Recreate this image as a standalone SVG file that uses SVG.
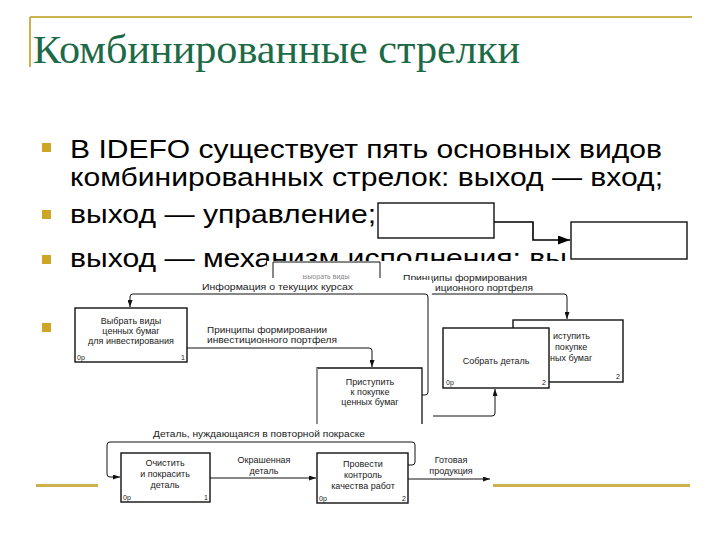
<svg xmlns="http://www.w3.org/2000/svg" width="720" height="540" viewBox="0 0 720 540">
<style>
.rule{stroke:#CBB24E;fill:none}
.bul{fill:#CFA526}
.bt{font-family:"Liberation Sans",Arial,sans-serif;font-size:25px;fill:#000}
.dt{font-family:"Liberation Sans",Arial,sans-serif;font-size:9px;fill:#1a1a1a}
.tag{font-family:"Liberation Sans",Arial,sans-serif;font-size:7px;fill:#1a1a1a}
.box{fill:#fff;stroke:#111;stroke-width:1.4}
.ln{fill:none;stroke:#111;stroke-width:1}
.bg{fill:#fff}
</style>
<defs>
<marker id="ah" viewBox="0 0 7 5" refX="7" refY="2.5" markerWidth="7" markerHeight="5" orient="auto" markerUnits="userSpaceOnUse"><path d="M0,0 L7,2.5 L0,5 z" fill="#111"/></marker>
<marker id="ahL" viewBox="0 0 12 9" refX="12" refY="4.5" markerWidth="12" markerHeight="9" orient="auto" markerUnits="userSpaceOnUse"><path d="M0,0 L12,4.5 L0,9 z" fill="#000"/></marker>
<clipPath id="fragClip"><rect x="273" y="275" width="107" height="5"/></clipPath>
</defs>
<rect width="720" height="540" fill="#fff"/>

<g id="slide-frame">
<path class="rule" stroke-width="2" d="M30,17 H692 M30,17 V67"/>
<path class="rule" stroke-width="3" d="M36,485.5 H98 M493,485.5 H690"/>
</g>

<g id="title">
<text x="33" y="63" font-family="'Liberation Serif','Times New Roman',serif" font-size="39" fill="#1D6A46" textLength="487" lengthAdjust="spacingAndGlyphs">Комбинированные стрелки</text>
</g>

<g id="bullets">
<rect class="bul" x="42" y="143" width="9" height="9"/>
<rect class="bul" x="42" y="210" width="9" height="9"/>
<rect class="bul" x="42" y="255" width="9" height="9"/>
<rect class="bul" x="42" y="323" width="9" height="9"/>
<text class="bt" x="70" y="158" textLength="592" lengthAdjust="spacingAndGlyphs">В IDEFO существует пять основных видов</text>
<text class="bt" x="70" y="186" textLength="593" lengthAdjust="spacingAndGlyphs">комбинированных стрелок: выход — вход;</text>
<text class="bt" x="70" y="223" textLength="306" lengthAdjust="spacingAndGlyphs">выход — управление;</text>
<text class="bt" x="70" y="267" textLength="497" lengthAdjust="spacingAndGlyphs">выход — механизм исполнения; вы</text>
</g>

<g id="small-diagram">
<g id="sd-box1"><rect class="box" x="378" y="203" width="116" height="35" stroke="#000" stroke-width="1.6"/></g>
<g id="sd-box2"><rect class="box" x="571" y="222" width="116" height="37" stroke="#000" stroke-width="1.6"/></g>
<g id="sd-connectors"><path d="M494,222 H533 V240 H570" fill="none" stroke="#000" stroke-width="1.6" marker-end="url(#ahL)"/></g>
</g>

<g id="layer-a">
<rect class="bg" x="267" y="261" width="363" height="165"/>
<g id="frag-box">
<path class="ln" d="M273,278 V262 H380 V278" stroke-width="1.3"/>
<text x="326" y="279" text-anchor="middle" font-family="'Liberation Sans',Arial,sans-serif" font-size="7" fill="#888" clip-path="url(#fragClip)">Выбрать виды</text>
</g>
<g id="a-labels">
<text class="dt" x="403" y="281" textLength="124" lengthAdjust="spacingAndGlyphs">Принципы формирования</text>
<text class="dt" x="435" y="291" textLength="98" lengthAdjust="spacingAndGlyphs">иционного портфеля</text>
</g>
<g id="a-connectors"><path class="ln" d="M432,294 H564 Q567,294 567,297 V319" marker-end="url(#ah)"/></g>
<g id="node-pristupit-2">
<rect class="box" x="513" y="320" width="110" height="62" stroke-width="1.2"/>
<text class="dt" x="553" y="339">иступить</text>
<text class="dt" x="555" y="350">покупке</text>
<text class="dt" x="550" y="361">ных бумаг</text>
<text class="tag" x="616" y="379">2</text>
</g>
</g>

<g id="layer-b">
<rect class="bg" x="62" y="280" width="370" height="146"/>
<g id="node-vybrat">
<rect class="box" x="75" y="308" width="112" height="54"/>
<text class="dt" x="131" y="324" text-anchor="middle">Выбрать виды</text>
<text class="dt" x="131" y="334" text-anchor="middle">ценных бумаг</text>
<text class="dt" x="131" y="344" text-anchor="middle">для инвестирования</text>
<text class="tag" x="77" y="360">0р</text>
<text class="tag" x="181" y="360">1</text>
</g>
<g id="node-pristupit">
<path d="M317,424 V368 H422 V424" fill="#fff" stroke="#111" stroke-width="1.3"/>
<path d="M317,424 V368" stroke="#aaa" stroke-width="1.3" fill="none"/>
<text class="dt" x="370" y="385" text-anchor="middle">Приступить</text>
<text class="dt" x="370" y="395" text-anchor="middle">к покупке</text>
<text class="dt" x="370" y="405" text-anchor="middle">ценных бумаг</text>
</g>
<g id="b-labels">
<text class="dt" x="202" y="290" textLength="151" lengthAdjust="spacingAndGlyphs">Информация о текущих курсах</text>
<text class="dt" x="207" y="333" textLength="120" lengthAdjust="spacingAndGlyphs">Принципы формировании</text>
<text class="dt" x="207" y="343" textLength="130" lengthAdjust="spacingAndGlyphs">инвестиционного портфеля</text>
</g>
<g id="b-connectors">
<path class="ln" d="M422,395 H425 Q428,395 428,392 V297 Q428,294 425,294 H133 Q130,294 130,297 V307" marker-end="url(#ah)"/>
<path class="ln" d="M187,348 H369 Q372,348 372,351 V367" marker-end="url(#ah)"/>
</g>
</g>

<g id="layer-c">
<g id="node-sobrat">
<rect class="box" x="443" y="328" width="106" height="60"/>
<text class="dt" x="496" y="364" text-anchor="middle" font-size="11">Собрать деталь</text>
<text class="tag" x="446" y="385">0р</text>
<text class="tag" x="542" y="385">2</text>
</g>
<g id="c-connectors"><path class="ln" d="M433,416 H492 Q495,416 495,413 V389" marker-end="url(#ah)"/></g>
</g>

<g id="bottom-diagram">
<g id="node-ochistit">
<rect class="box" x="121" y="453" width="89" height="49"/>
<text class="dt" x="165" y="466" text-anchor="middle" font-size="9.5">Очистить</text>
<text class="dt" x="165" y="477" text-anchor="middle" font-size="9.5">и покрасить</text>
<text class="dt" x="165" y="488" text-anchor="middle" font-size="9.5">деталь</text>
<text class="tag" x="123" y="500">0р</text>
<text class="tag" x="204" y="500">1</text>
</g>
<g id="node-provesti">
<rect class="box" x="317" y="453" width="91" height="50"/>
<text class="dt" x="363" y="467" text-anchor="middle" font-size="9.5">Провести</text>
<text class="dt" x="363" y="478" text-anchor="middle" font-size="9.5">контроль</text>
<text class="dt" x="363" y="489" text-anchor="middle" font-size="9.5">качества работ</text>
<text class="tag" x="319" y="501">0р</text>
<text class="tag" x="402" y="501">2</text>
</g>
<g id="d-labels">
<text class="dt" x="153" y="437" textLength="212" lengthAdjust="spacingAndGlyphs">Деталь, нуждающаяся в повторной покраске</text>
<text class="dt" x="264" y="463" text-anchor="middle">Окрашенная</text>
<text class="dt" x="264" y="474" text-anchor="middle">деталь</text>
<text class="dt" x="451" y="463" text-anchor="middle">Готовая</text>
<text class="dt" x="451" y="474" text-anchor="middle">продукция</text>
</g>
<g id="d-connectors">
<path class="ln" d="M408,465 H412 Q415,465 415,462 V445 Q415,442 412,442 H110 Q107,442 107,445 V474 Q107,477 110,477 H120" marker-end="url(#ah)"/>
<path class="ln" d="M210,478 H316" marker-end="url(#ah)"/>
<path class="ln" d="M408,479 H490" marker-end="url(#ah)"/>
</g>
</g>
</svg>
